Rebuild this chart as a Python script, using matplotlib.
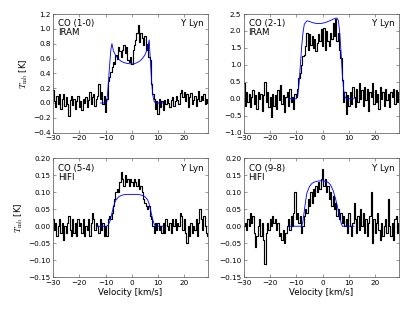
import numpy as np
import matplotlib
matplotlib.use("Agg")
import matplotlib.pyplot as plt

# Channel grid (km/s)
v_start, v_stop, v_step = -30.0, 29.0, 0.5

# CO (1-0) IRAM spectrum [K]
co10 = [0.18, 0.02, -0.06, 0.10, -0.02, 0.12, -0.08, 0.05, 0.12, -0.04,
        0.08, -0.02, -0.18, 0.04, 0.10, -0.03, 0.06, -0.08, 0.02, 0.09,
        -0.05, 0.03, -0.10, 0.05, 0.00, 0.08, -0.06, 0.04, 0.15, -0.02,
        0.08, 0.12, -0.04, 0.06, 0.10, 0.26, 0.05, 0.15, -0.02, 0.10,
        -0.12,
        0.05, 0.30, 0.35, 0.42, 0.48, 0.55, 0.52, 0.65, 0.60, 0.75,
        0.70, 0.62, 0.72, 0.78, 0.68, 0.75, 0.58, 0.55, 0.62, 0.52,
        0.72, 0.78, 0.85, 0.95, 1.05, 0.82, 0.95, 0.88, 0.78, 0.90,
        0.72, 0.80, 0.62, 0.58, 0.25, 0.12, 0.05, -0.08, 0.02, -0.15,
        0.05, -0.05, 0.02, -0.10, 0.04, -0.02, 0.06, 0.00, -0.06, 0.04,
        0.08, -0.04, 0.02, 0.10, 0.04, -0.02, 0.14, 0.18, 0.08, 0.15,
        0.02, 0.12, -0.05, 0.08, 0.14, -0.02, 0.04, 0.10, -0.04, 0.06,
        0.16, 0.02, 0.10, 0.04, 0.12, -0.02, 0.06, 0.00]

# CO (2-1) IRAM spectrum [K]
co21 = [0.45, -0.20, 0.20, -0.10, 0.15, -0.25, 0.05, 0.25, -0.15, 0.10,
        -0.30, 0.20, 0.00, 0.15, -0.35, 0.10, 0.50, -0.10, 0.20, -0.25,
        0.05, -0.55, 0.15, -0.20, 0.10, -0.30, 0.25, -0.05, 0.40, -0.15,
        0.10, -0.40, 0.05, 0.20, -0.20, 0.30, -0.10, 0.05, -0.30, 0.15,
        0.05,
        0.30, 0.60, 0.75, 1.00, 1.25, 1.30, 1.55, 1.95, 1.45, 1.90,
        1.60, 1.85, 1.50, 1.75, 1.40, 1.65, 1.90, 1.70, 2.05, 1.55,
        2.10, 1.45, 2.00, 1.70, 1.55, 1.95, 1.75, 2.25, 1.85, 2.35,
        1.70, 1.95, 1.45, 1.20, 0.55, -0.10, 0.20, -0.45, 0.10, -0.20,
        0.20, -0.15, 0.35, 0.05, -0.25, 0.30, -0.10, 0.45, 0.00, 0.25,
        -0.20, 0.35, -0.05, 0.30, -0.35, 0.20, 0.05, 0.45, -0.15, 0.25,
        -0.10, 0.15, -0.30, 0.35, 0.00, 0.20, -0.20, 0.30, -0.05, 0.15,
        -0.25, 0.20, 0.05, 0.30, -0.15, 0.25, -0.10, 0.20]

# CO (5-4) HIFI spectrum [K]
co54 = [0.02, -0.01, 0.01, -0.03, 0.00, 0.02, -0.02, 0.01, -0.04, 0.00,
        -0.02, 0.01, 0.03, -0.01, -0.03, 0.02, -0.02, 0.01, -0.03, 0.02,
        0.00, 0.01, -0.02, 0.02, -0.03, 0.00, -0.01, 0.02, -0.03, 0.01,
        0.04, 0.02, -0.01, 0.01, 0.00, -0.02, 0.02, -0.01, 0.01, -0.03,
        0.00,
        -0.03, 0.02, 0.03, 0.02, 0.04, 0.06, 0.08, 0.10, 0.11, 0.10,
        0.13, 0.16, 0.14, 0.12, 0.15, 0.13, 0.14, 0.12, 0.14, 0.13,
        0.12, 0.14, 0.13, 0.12, 0.14, 0.11, 0.12, 0.10, 0.08, 0.07,
        0.06, 0.05, 0.06, 0.03, 0.02, 0.00, -0.02, 0.01, -0.01, 0.01,
        -0.01, 0.00, -0.02, 0.01, -0.02, 0.02, 0.00, -0.01, 0.01, -0.02,
        0.02, 0.00, 0.02, -0.01, 0.01, 0.00, 0.04, 0.03, -0.01, 0.02,
        -0.02, -0.05, 0.00, -0.03, 0.01, -0.02, 0.00, -0.01, 0.02, -0.03,
        0.01, 0.05, 0.02, -0.01, 0.03, 0.00, -0.02, -0.03]

# CO (9-8) HIFI spectrum [K]
co98 = [0.00, 0.01, -0.01, 0.02, 0.00, 0.04, 0.01, 0.03, -0.02, -0.06,
        -0.03, 0.00, 0.02, -0.03, 0.01, -0.04, -0.11, -0.02, 0.01, -0.01,
        0.02, 0.00, 0.03, 0.01, 0.02, -0.01, 0.01, -0.03, -0.02, -0.04,
        -0.01, -0.05, -0.02, 0.00, 0.02, -0.01, 0.03, 0.00, 0.04, 0.10,
        0.02,
        0.04, 0.01, 0.03, -0.02, 0.00, 0.03, 0.05, 0.04, 0.08, 0.06,
        0.10, 0.07, 0.11, 0.09, 0.12, 0.10, 0.13, 0.11, 0.14, 0.17,
        0.12, 0.14, 0.10, 0.12, 0.08, 0.10, 0.06, 0.09, 0.05, 0.07,
        0.03, 0.05, 0.02, 0.04, 0.01, 0.03, 0.00, 0.02, -0.02, 0.04,
        0.00, -0.03, 0.01, 0.07, 0.02, -0.02, 0.03, -0.01, 0.05, 0.00,
        0.04, -0.02, 0.02, -0.03, 0.01, 0.03, 0.10, -0.05, 0.02, -0.02,
        0.01, 0.04, -0.01, -0.04, 0.01, -0.03, 0.00, 0.02, -0.02, 0.08,
        0.00, -0.03, 0.01, -0.04, 0.02, 0.03, -0.02, 0.01]

# Model line profiles (velocity, T_mb)
m10_v = [-12, -10, -9.5, -9.0, -8.5, -8.0, -7.6, -7.0, -6.0, -5.0, -4.0, -3.0, -2.0, -1.0, 0.0,
         1.0, 2.0, 3.0, 4.0, 5.0, 6.0, 6.6, 7.0, 7.5, 8.0, 8.5, 9.0, 12]
m10_t = [0, 0, 0.02, 0.25, 0.50, 0.72, 0.80, 0.70, 0.63, 0.59, 0.56, 0.545, 0.535, 0.53, 0.525,
         0.53, 0.545, 0.565, 0.60, 0.65, 0.74, 0.85, 0.60, 0.30, 0.10, 0.02, 0, 0]

m21_v = [-13, -10, -9.5, -9.0, -8.5, -8.0, -7.5, -7.0, -6.0, -5.0, -4.0, -3.0, -2.0, -1.0, 0.0,
         1.0, 2.0, 3.0, 4.0, 5.0, 5.5, 6.0, 6.5, 7.0, 7.5, 8.0, 8.5, 9.0, 12]
m21_t = [0, 0, 0.08, 0.45, 1.00, 1.55, 1.95, 2.20, 2.30, 2.28, 2.25, 2.23, 2.22, 2.22, 2.23,
         2.25, 2.28, 2.31, 2.35, 2.38, 2.38, 2.30, 1.95, 1.35, 0.70, 0.25, 0.05, 0, 0]

m54_v = [-13, -9.5, -9.0, -8.5, -8.0, -7.5, -7.0, -6.5, -6.0, -5.0, -4.0, -3.0, -2.0, 0.0,
         2.0, 3.0, 4.0, 5.0, 6.0, 6.5, 7.0, 7.5, 8.0, 8.5, 9.0, 12]
m54_t = [0, 0, 0.004, 0.012, 0.025, 0.042, 0.058, 0.070, 0.078, 0.087, 0.091, 0.093, 0.094, 0.094,
         0.094, 0.093, 0.091, 0.087, 0.078, 0.068, 0.052, 0.035, 0.018, 0.006, 0, 0]

m98_v = [-13, -8.0, -7.5, -7.0, -6.5, -6.0, -5.0, -4.0, -3.0, -2.0, -1.0, 0.0, 1.0, 2.0,
         3.0, 4.0, 5.0, 6.0, 6.5, 7.0, 7.5, 12]
m98_t = [0, 0, 0.015, 0.045, 0.075, 0.098, 0.118, 0.127, 0.131, 0.133, 0.134, 0.134, 0.133, 0.130,
         0.122, 0.105, 0.078, 0.045, 0.026, 0.010, 0, 0]

lines = ["CO (1-0)\nIRAM", "CO (2-1)\nIRAM", "CO (5-4)\nHIFI", "CO (9-8)\nHIFI"]
star = "Y Lyn"
ylims = [(-0.4, 1.2), (-1.0, 2.5), (-0.15, 0.20), (-0.15, 0.20)]
ysteps = [0.2, 0.5, 0.05, 0.05]
xticks = [-30, -20, -10, 0, 10, 20]

plt.rcParams.update({
    "xtick.direction": "in", "ytick.direction": "in",
    "xtick.top": True, "ytick.right": True,
    "xtick.major.size": 4, "ytick.major.size": 4,
    "xtick.labelsize": 10, "ytick.labelsize": 10,
    "axes.linewidth": 1.0,
    "mathtext.fontset": "cm",
})

dpi = 52
fig, axes = plt.subplots(2, 2, figsize=(415 / dpi, 312 / dpi), dpi=dpi)
fig.subplots_adjust(left=0.128, right=0.961, top=0.955, bottom=0.112,
                    wspace=0.232, hspace=0.218)

v = np.arange(v_start, v_stop + v_step / 2, v_step)
spectra = [co10, co21, co54, co98]
models = [(m10_v, m10_t), (m21_v, m21_t), (m54_v, m54_t), (m98_v, m98_t)]

for k, ax in enumerate(axes.flat):
    ax.plot(v, spectra[k], drawstyle="steps-mid", color="black", lw=1.6)
    ax.plot(models[k][0], models[k][1], color="blue", lw=1.2)
    ax.set_xlim(-30, 29)
    ax.set_ylim(*ylims[k])
    ax.set_xticks(xticks)
    lo, hi = ylims[k]
    ax.set_yticks(np.arange(lo, hi + ysteps[k] / 2, ysteps[k]))
    ax.text(0.03, 0.955, lines[k], transform=ax.transAxes, ha="left", va="top",
            fontsize=12, linespacing=1.0)
    ax.text(0.97, 0.955, star, transform=ax.transAxes, ha="right", va="top",
            fontsize=12)
    for s in ax.spines.values():
        s.set_color("#555555")
    ax.tick_params(colors="#555555", labelcolor="black")

for ax in axes[:, 0]:
    ax.set_ylabel(r"$T_{\rm mb}$ [K]", fontsize=12)
for ax in axes[1, :]:
    ax.set_xlabel("Velocity [km/s]", fontsize=12)

fig.savefig("out.png", dpi=dpi)
